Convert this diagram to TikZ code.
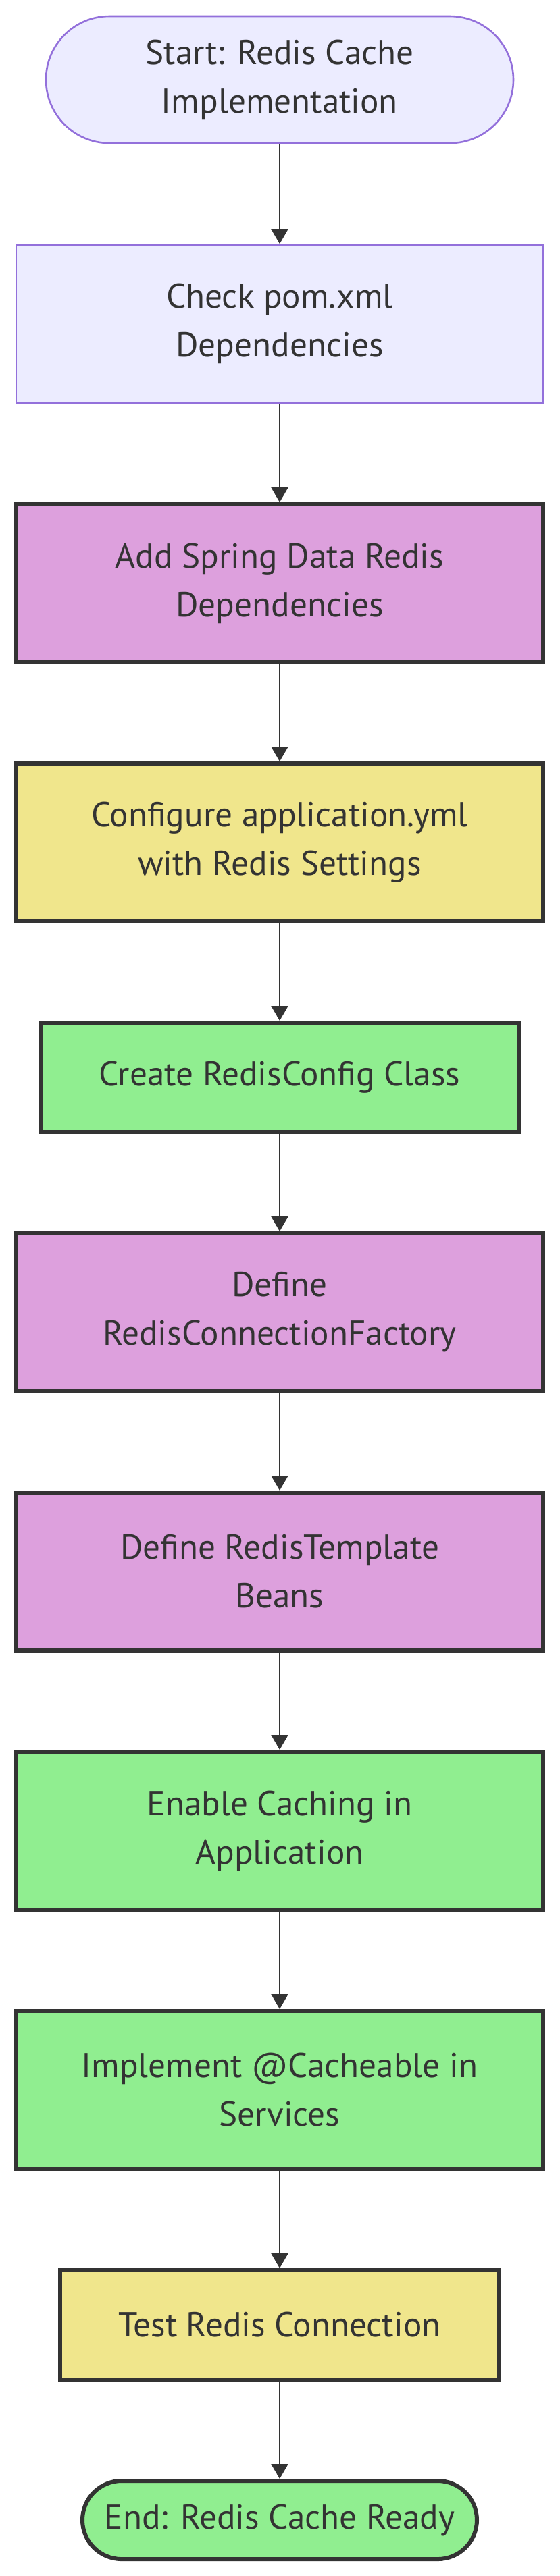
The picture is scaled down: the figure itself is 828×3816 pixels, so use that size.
\documentclass[tikz,border=0pt]{standalone}
\usepackage{fontspec}
\setmainfont{PT Sans}
\usetikzlibrary{arrows.meta}
\definecolor{lav}{HTML}{ECECFF}
\definecolor{lavs}{HTML}{9370DB}
\definecolor{plum}{HTML}{DDA0DD}
\definecolor{khaki}{HTML}{F0E68C}
\definecolor{lgreen}{HTML}{90EE90}
\definecolor{dk}{HTML}{333333}
\tikzset{
  base/.style={rectangle, align=center, text=dk, inner sep=0pt,
    font=\fontsize{12.8}{18}\selectfont},
  lavbox/.style={base, fill=lav, draw=lavs, line width=0.65pt},
  darkbox/.style={base, draw=dk, line width=1.5pt},
  wide/.style={minimum width=195pt, minimum height=58.5pt},
  narrow1/.style={minimum height=40.5pt},
  flow/.style={draw=dk, line width=0.7pt, -{Triangle[length=5.5pt,width=6.2pt]}}
}
\begin{document}
\begin{tikzpicture}[x=0.25pt,y=-0.25pt]
\useasboundingbox (0,0) rectangle (828,3816);
\node[lavbox, rounded corners=23.5pt, minimum width=173pt, minimum height=47pt] (start) at (414,118) {Start: Redis Cache\\Implementation};
\node[lavbox, wide] (check) at (414,479.5) {Check pom.xml\\Dependencies};
\node[darkbox, wide, fill=plum] (add) at (414,864) {Add Spring Data Redis\\Dependencies};
\node[darkbox, wide, fill=khaki] (config) at (414,1248) {Configure application.yml\\with Redis Settings};
\node[darkbox, narrow1, minimum width=177pt, fill=lgreen] (create) at (414,1596) {Create RedisConfig Class};
\node[darkbox, wide, fill=plum] (rcf) at (414,1944) {Define\\RedisConnectionFactory};
\node[darkbox, wide, fill=plum] (rt) at (414,2328) {Define RedisTemplate\\Beans};
\node[darkbox, wide, fill=lgreen] (enable) at (414,2712) {Enable Caching in\\Application};
\node[darkbox, wide, fill=lgreen] (impl) at (414,3096) {Implement @Cacheable in\\Services};
\node[darkbox, narrow1, minimum width=162.5pt, fill=khaki] (test) at (414,3444) {Test Redis Connection};
\node[darkbox, rounded corners=14.5pt, minimum width=146pt, minimum height=29pt, fill=lgreen] (end) at (414,3733) {End: Redis Cache Ready};
\draw[flow] (start) -- (check);
\draw[flow] (check) -- (add);
\draw[flow] (add) -- (config);
\draw[flow] (config) -- (create);
\draw[flow] (create) -- (rcf);
\draw[flow] (rcf) -- (rt);
\draw[flow] (rt) -- (enable);
\draw[flow] (enable) -- (impl);
\draw[flow] (impl) -- (test);
\draw[flow] (test) -- (end);
\end{tikzpicture}
\end{document}
